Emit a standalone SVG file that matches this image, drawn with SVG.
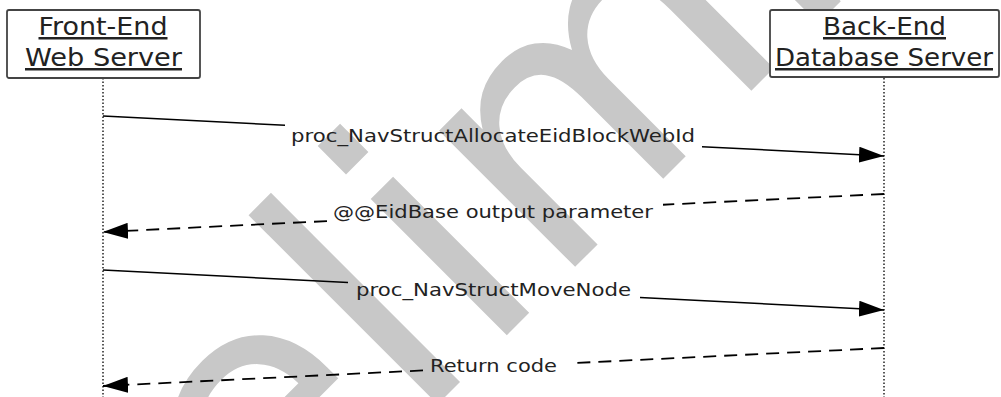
<svg xmlns="http://www.w3.org/2000/svg" width="1001" height="397" viewBox="0 0 1001 397">
<style>
.box{fill:#fff;stroke:#444;stroke-width:1.8}
.hdr{font-family:"DejaVu Sans","Liberation Sans",sans-serif;font-size:25px;fill:#222;text-anchor:middle;text-decoration:underline}
.lbl{font-family:"DejaVu Sans","Liberation Sans",sans-serif;font-size:18px;fill:#222}
.life{stroke:#222;stroke-width:1.5;stroke-dasharray:1.5,2}
.msg{fill:none;stroke:#000;stroke-width:1.5}
.ret{fill:none;stroke:#000;stroke-width:1.8;stroke-dasharray:13,8}
.wm{font-family:"DejaVu Sans",sans-serif;font-size:352px;fill:#c8c8c8}
</style>
<defs>
<marker id="ah" markerUnits="userSpaceOnUse" markerWidth="26" markerHeight="16" refX="25" refY="8" orient="auto">
<path d="M0,0 L25,8 L0,16 Z" fill="#000"/>
</marker>
</defs>
<rect width="1001" height="397" fill="#fff"/>
<text class="wm" transform="translate(18.5,823.5) rotate(-45)">Preliminary</text>
<g id="frontend">
<line class="life" x1="103" y1="78" x2="103" y2="397"/>
<rect class="box" x="7" y="10" width="193" height="68" rx="2"/>
<text class="hdr" x="103" y="35" textLength="129" lengthAdjust="spacingAndGlyphs">Front-End</text>
<text class="hdr" x="103.5" y="66" textLength="157" lengthAdjust="spacingAndGlyphs">Web Server</text>
</g>
<g id="backend">
<line class="life" x1="884" y1="78" x2="884" y2="397"/>
<rect class="box" x="770" y="10" width="229" height="67" rx="2"/>
<text class="hdr" x="884.5" y="35" textLength="123" lengthAdjust="spacingAndGlyphs">Back-End</text>
<text class="hdr" x="884" y="66" textLength="218" lengthAdjust="spacingAndGlyphs">Database Server</text>
</g>
<g id="connectors">
<path class="msg" d="M103,116 L285,125.3 M702,146.7 L884,156" marker-end="url(#ah)"/>
<text class="lbl" x="291" y="142" textLength="404" lengthAdjust="spacingAndGlyphs">proc_NavStructAllocateEidBlockWebId</text>
<path class="ret" d="M884,194 L663,204.75 M327,221.1 L103,232" marker-end="url(#ah)"/>
<text class="lbl" x="333" y="218" textLength="320" lengthAdjust="spacingAndGlyphs">@@EidBase output parameter</text>
<path class="msg" d="M103,270 L348,282.5 M640,297.5 L884,310" marker-end="url(#ah)"/>
<text class="lbl" x="356" y="296" textLength="275" lengthAdjust="spacingAndGlyphs">proc_NavStructMoveNode</text>
<path class="ret" d="M884,348 L573,363.1 M423,370.4 L103,386" marker-end="url(#ah)"/>
<text class="lbl" x="430" y="372" textLength="127" lengthAdjust="spacingAndGlyphs">Return code</text>
</g>
</svg>
